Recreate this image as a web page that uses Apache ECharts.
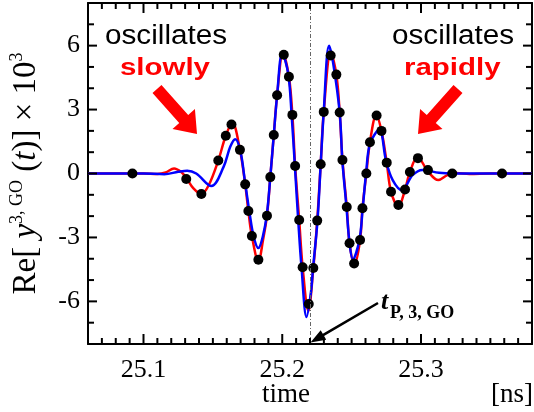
<!DOCTYPE html>
<html>
<head>
<meta charset="utf-8">
<title>Re y3,GO(t)</title>
<script src="https://cdn.jsdelivr.net/npm/echarts@6.0.0/dist/echarts.min.js"></script>
<style>
html, body { margin: 0; padding: 0; background: #fff; }
#chart { width: 534px; height: 412px; }
</style>
</head>
<body>
<div id="chart"></div>
<script>
// axis range and ticks (time in ns, value x 10^3)
var xMin = 25.06, xMax = 25.38;
var xLabelTicks = [25.1, 25.2, 25.3];
var xMinorTicks = [25.07, 25.08, 25.09, 25.11, 25.12, 25.13, 25.14, 25.15, 25.16, 25.17, 25.18, 25.19,
                   25.21, 25.22, 25.23, 25.24, 25.25, 25.26, 25.27, 25.28, 25.29, 25.31, 25.32, 25.33,
                   25.34, 25.35, 25.36, 25.37];
var yLabelTicks = [-6, -3, 0, 3, 6];
var yMinorTicks = [-7, -5, -4, -2, -1, 1, 2, 4, 5, 7];
var tPeak = 25.218;   // t_P,3,GO

// red curve
var redT = [25.060, 25.080, 25.100, 25.110, 25.116, 25.122, 25.127, 25.131, 25.136, 25.1417, 25.147,
            25.1539, 25.1593, 25.1640, 25.1695, 25.1733, 25.1756, 25.1781, 25.1828, 25.1862, 25.1890,
            25.1914, 25.1939, 25.1963, 25.2005, 25.2048, 25.2073, 25.2093, 25.2122, 25.2147, 25.2188,
            25.2224, 25.2252, 25.2277, 25.2299, 25.2350, 25.2390, 25.2414, 25.2434, 25.2465, 25.2485,
            25.2520, 25.2561, 25.2578, 25.2606, 25.2632, 25.2678, 25.2715, 25.2753, 25.2784, 25.2837,
            25.2885, 25.2920, 25.2975, 25.3050, 25.3125, 25.3190, 25.3250, 25.3350, 25.3500, 25.3800];
var redV = [0, 0, 0, -0.02, 0.05, 0.24, 0.08, -0.22, -0.70, -0.96, -0.55,
            0.61, 1.77, 2.38, 1.11, -0.51, -1.76, -2.93, -4.12, -3.10, -1.98,
            -0.17, 1.81, 3.67, 5.62, 4.54, 2.75, 0.35, -2.18, -4.40, -6.45,
            -4.43, -2.21, 0.43, 2.89, 5.69, 4.64, 2.86, 0.63, -1.57, -3.27,
            -4.28, -3.12, -1.63, 0.00, 1.47, 2.75, 2.00, 0.51, -0.86, -1.56,
            -0.75, 0.07, 0.78, 0.10, -0.31, -0.08, 0.02, -0.02, 0, 0];

// blue curve
var blueT = [25.060, 25.100, 25.115, 25.125, 25.1315, 25.138, 25.1489, 25.1577, 25.1625, 25.1661,
             25.1697, 25.1733, 25.1763, 25.1794, 25.1828, 25.1860, 25.1890, 25.1914, 25.1939, 25.1963,
             25.2000, 25.2043, 25.2067, 25.2091, 25.2115, 25.2139, 25.2175, 25.2206, 25.2222, 25.2254,
             25.2277, 25.2299, 25.2337, 25.2366, 25.2414, 25.2433, 25.2463, 25.2485, 25.2509, 25.2556,
             25.2580, 25.2604, 25.2633, 25.2700, 25.2748, 25.2796, 25.2863, 25.2939, 25.3010, 25.3130,
             25.3250, 25.3800];
var blueV = [0, 0, -0.03, 0.08, 0.13, 0.00, -0.59, 0.31, 1.25, 1.61,
             1.10, -0.46, -1.79, -2.96, -3.50, -2.96, -1.87, -0.15, 1.80, 3.67,
             5.65, 4.68, 2.81, 0.35, -2.18, -4.41, -6.73, -5.61, -4.44, -2.21,
             0.43, 2.89, 6.00, 5.22, 2.86, 0.63, -1.59, -3.27, -4.02, -3.12,
             -1.63, 0.00, 1.41, 2.06, 0.60, -0.31, -0.78, -0.08, 0.17, 0.03,
             0, 0];

// sampled points (black dots)
var dotT = [25.0920, 25.1308, 25.1417, 25.1539, 25.1593, 25.1634, 25.1695, 25.1733, 25.1756, 25.1781,
            25.1828, 25.1890, 25.1914, 25.1939, 25.1963, 25.2011, 25.2048, 25.2073, 25.2093, 25.2122,
            25.2147, 25.2191, 25.2224, 25.2252, 25.2277, 25.2299, 25.2349, 25.2390, 25.2414, 25.2434,
            25.2465, 25.2485, 25.2518, 25.2561, 25.2578, 25.2606, 25.2632, 25.2680, 25.2715, 25.2753,
            25.2784, 25.2837, 25.2885, 25.2920, 25.2978, 25.3050, 25.3225, 25.3584];
var dotV = [0, -0.26, -0.96, 0.61, 1.77, 2.30, 1.11, -0.51, -1.76, -2.93,
            -4.05, -1.98, -0.17, 1.81, 3.67, 5.57, 4.54, 2.75, 0.35, -2.18,
            -4.40, -6.12, -4.43, -2.21, 0.43, 2.89, 5.54, 4.64, 2.86, 0.63,
            -1.57, -3.27, -4.22, -3.12, -1.63, 0.00, 1.47, 2.72, 2.00, 0.51,
            -0.86, -1.48, -0.75, 0.07, 0.72, 0.16, 0, 0];

function pairs(t, v) {
    return t.map(function (x, i) { return [x, v[i]]; });
}

var serif = '"Liberation Serif", "Times New Roman", serif';
var sans = '"Liberation Sans", Arial, sans-serif';

// tick marks on all four sides, drawn by a custom series through the axis scales
// kind: 0 x major, 1 x minor, 2 y major, 3 y minor
var tickData = []
    .concat(xLabelTicks.map(function (v) { return [v, 0, 0]; }))
    .concat(xMinorTicks.map(function (v) { return [v, 0, 1]; }))
    .concat(yLabelTicks.map(function (v) { return [xMin, v, 2]; }))
    .concat(yMinorTicks.map(function (v) { return [xMin, v, 3]; }));

function renderTick(params, api) {
    var cs = params.coordSys;
    var kind = api.value(2);
    var p = api.coord([api.value(0), api.value(1)]);
    var len = kind === 0 ? 10 : (kind === 2 ? 9 : 6);
    var st = {stroke: '#000', lineWidth: 2};
    var a, b;
    if (kind < 2) {
        a = {x1: p[0], y1: cs.y + cs.height, x2: p[0], y2: cs.y + cs.height - len};
        b = {x1: p[0], y1: cs.y, x2: p[0], y2: cs.y + len};
    } else {
        a = {x1: cs.x, y1: p[1], x2: cs.x + len, y2: p[1]};
        b = {x1: cs.x + cs.width, y1: p[1], x2: cs.x + cs.width - len, y2: p[1]};
    }
    return {type: 'group', children: [
        {type: 'line', shape: a, style: st},
        {type: 'line', shape: b, style: st}
    ]};
}

function xAx(pos, showLabel) {
    return {
        type: 'value', position: pos, min: xMin, max: xMax,
        axisLine: {show: true, onZero: false, lineStyle: {color: '#000', width: 2}},
        axisTick: {show: false},
        axisLabel: {show: showLabel, customValues: xLabelTicks.slice(), margin: 13,
                    fontFamily: serif, fontSize: 26, color: '#000'},
        splitLine: {show: false}
    };
}
function yAx(pos, showLabel) {
    return {
        type: 'value', position: pos, min: -8, max: 8,
        axisLine: {show: true, onZero: false, lineStyle: {color: '#000', width: 2}},
        axisTick: {show: false},
        axisLabel: {show: showLabel, customValues: yLabelTicks.slice(), margin: 8,
                    fontFamily: serif, fontSize: 26, color: '#000'},
        splitLine: {show: false}
    };
}

// arrow polygon from tail to tip
function arrow(tail, tip, shaftW, headL, headW, color) {
    var dx = tip[0] - tail[0], dy = tip[1] - tail[1];
    var L = Math.sqrt(dx * dx + dy * dy);
    var ux = dx / L, uy = dy / L, nx = -uy, ny = ux;
    var bx = tip[0] - ux * headL, by = tip[1] - uy * headL;
    var pts = [
        [tail[0] + nx * shaftW, tail[1] + ny * shaftW],
        [bx + nx * shaftW, by + ny * shaftW],
        [bx + nx * headW, by + ny * headW],
        tip,
        [bx - nx * headW, by - ny * headW],
        [bx - nx * shaftW, by - ny * shaftW],
        [tail[0] - nx * shaftW, tail[1] - ny * shaftW]
    ];
    return {type: 'polygon', shape: {points: pts}, style: {fill: color}, z: 100};
}
function txt(x, y, s, font, color, sx) {
    return {type: 'text', x: x, y: y, scaleX: sx || 1, z: 100,
            style: {text: s, font: font, fill: color, align: 'left', verticalAlign: 'middle',
                    textAlign: 'left', textVerticalAlign: 'middle'}};
}

var myChart = echarts.init(document.getElementById('chart'));

var option = {
    animation: false,
    grid: {left: 87, right: 2, top: 3, bottom: 68},
    xAxis: [xAx('bottom', true), xAx('top', false)],
    yAxis: [
        Object.assign(yAx('left', true), {
            name: '{a|Re[ }{i|y}{s|3, GO}{a| (}{i|t}{a|)] \u00d7 10}{s|3}',
            nameLocation: 'middle', nameRotate: 90, nameGap: 44,
            nameTextStyle: {
                color: '#000',
                rich: {
                    a: {fontFamily: serif, fontSize: 33, color: '#000', lineHeight: 36},
                    i: {fontFamily: serif, fontSize: 33, fontStyle: 'italic', color: '#000', lineHeight: 36},
                    s: {fontFamily: serif, fontSize: 18, color: '#000', verticalAlign: 'top', lineHeight: 22}
                }
            }
        }),
        yAx('right', false)
    ],
    series: [
        {
            name: 'ticks', type: 'custom', data: tickData, renderItem: renderTick,
            clip: false, silent: true, z: 5
        },
        {
            name: 'red', type: 'line', data: pairs(redT, redV),
            showSymbol: false, smooth: 0.35, z: 2,
            lineStyle: {color: '#ff0000', width: 2.5},
            markLine: {
                silent: true, symbol: 'none', label: {show: false},
                lineStyle: {color: '#666', width: 1, type: [4, 2, 1, 2]},
                data: [{xAxis: tPeak}]
            }
        },
        {
            name: 'blue', type: 'line', data: pairs(blueT, blueV),
            showSymbol: false, smooth: 0.35, z: 3,
            lineStyle: {color: '#0000ff', width: 2.5}
        },
        {
            name: 'samples', type: 'scatter', data: pairs(dotT, dotV),
            symbolSize: 10, z: 4,
            itemStyle: {color: '#000', opacity: 1}
        }
    ],
    graphic: [
        txt(105, 37, 'oscillates', '27px ' + sans, '#000', 1.1),
        txt(120, 69, 'slowly', 'bold 23px ' + sans, '#ff0000', 1.28),
        txt(392, 37, 'oscillates', '27px ' + sans, '#000', 1.1),
        txt(404, 69, 'rapidly', 'bold 23px ' + sans, '#ff0000', 1.28),
        arrow([157, 89], [197, 134], 6, 20, 15, '#ff0000'),
        arrow([458, 89], [418, 134], 6, 20, 15, '#ff0000'),
        arrow([378, 303], [310.5, 342.5], 1.3, 15, 5.5, '#000'),
        txt(381, 302, 't', 'italic bold 26px ' + serif, '#000'),
        txt(390, 313, 'P, 3, GO', 'bold 18px ' + serif, '#000'),
        txt(262, 395, 'time', '27px ' + serif, '#000'),
        txt(491, 395, '[ns]', '27px ' + serif, '#000')
    ]
};
myChart.setOption(option);
</script>
</body>
</html>
